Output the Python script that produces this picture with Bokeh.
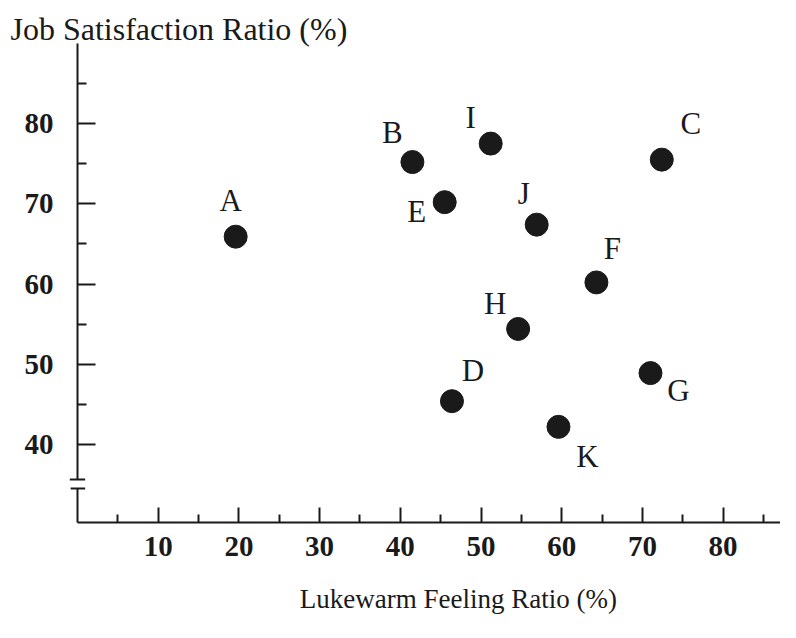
from bokeh.plotting import figure
from bokeh.models import ColumnDataSource, FixedTicker, Range1d, Label
from bokeh.core.properties import value
from bokeh.embed import file_html
from bokeh.resources import INLINE

# ---- data ----
names = ["A", "B", "C", "D", "E", "F", "G", "H", "I", "J", "K"]
lukewarm = [19.6, 41.5, 72.4, 46.4, 45.5, 64.3, 71.0, 54.6, 51.2, 56.9, 59.6]
satisfaction = [65.9, 75.2, 75.5, 45.4, 70.2, 60.2, 48.9, 54.4, 77.5, 67.4, 42.2]
x_major = [10, 20, 30, 40, 50, 60, 70, 80]
x_minor = [5, 15, 25, 35, 45, 55, 65, 75, 85]
y_major = [40, 50, 60, 70, 80]
y_minor = [45, 55, 65, 75, 85]
y_title = "Job Satisfaction Ratio (%)"
x_title = "Lukewarm Feeling Ratio (%)"

# label placement (screen px offsets from each point)
label_dx = [-5, -20, 29, 21, -28, 16, 28, -23, -20, -13, 29]
label_dy = [-36, -30, -36, -31, 9, -34, 17, -25, -26, -31, 30]

SERIF = "Liberation Serif"
INK = "#1a1a1a"

# plot window (whole canvas is the frame; axes sit at fixed data locations)
X0, X1 = -9.54, 87.11
Y0, Y1 = 17.82, 95.33
AXIS_X = 0            # where the y axis stands
AXIS_Y = 30.28        # where the x axis lies
Y_AXIS_TOP = 89.97
BREAK_LO, BREAK_HI = 34.52, 35.64

p = figure(width=780, height=622, x_range=Range1d(X0, X1), y_range=Range1d(Y0, Y1),
           output_backend="svg", toolbar_location=None,
           min_border_left=0, min_border_right=0, min_border_top=0, min_border_bottom=0)
p.outline_line_color = None
p.grid.visible = False
p.background_fill_color = "white"

# x axis
xa = p.xaxis[0]
xa.fixed_location = AXIS_Y
xa.ticker = FixedTicker(ticks=x_major, minor_ticks=x_minor)
xa.bounds = (AXIS_X, X1)
xa.axis_line_width = 2
xa.axis_line_color = INK
xa.major_tick_in = 15
xa.major_tick_out = 0
xa.minor_tick_in = 8
xa.minor_tick_out = 0
xa.major_tick_line_width = 2
xa.minor_tick_line_width = 2
xa.major_tick_line_color = INK
xa.minor_tick_line_color = INK
xa.major_label_text_font = SERIF
xa.major_label_text_font_style = "bold"
xa.major_label_text_font_size = "29px"
xa.major_label_text_color = INK
xa.major_label_standoff = 14

# y axis
ya = p.yaxis[0]
ya.fixed_location = AXIS_X
ya.ticker = FixedTicker(ticks=y_major, minor_ticks=y_minor)
ya.bounds = (AXIS_Y, Y_AXIS_TOP)
ya.axis_line_width = 2
ya.axis_line_color = INK
ya.major_tick_in = 18
ya.major_tick_out = 0
ya.minor_tick_in = 9
ya.minor_tick_out = 0
ya.major_tick_line_width = 2
ya.minor_tick_line_width = 2
ya.major_tick_line_color = INK
ya.minor_tick_line_color = INK
ya.major_label_text_font = SERIF
ya.major_label_text_font_style = "bold"
ya.major_label_text_font_size = "29px"
ya.major_label_text_color = INK
ya.major_label_standoff = 24

# titles
p.add_layout(Label(x=-8.30, y=91.84, text=y_title, text_font=SERIF,
                   text_font_size="32px", text_color=INK, text_align="left",
                   text_baseline="middle"))
p.add_layout(Label(x=47.2, y=20.81, text=x_title, text_font=SERIF,
                   text_font_size="27px", text_color=INK, text_align="center",
                   text_baseline="middle"))

# axis break on the y axis
gap = p.quad(left=[AXIS_X - 0.4], right=[AXIS_X + 0.4], bottom=[BREAK_LO], top=[BREAK_HI],
             fill_color="white", line_color=None)
gap.level = "annotation"
marks = p.segment(x0=[AXIS_X - 0.95, AXIS_X - 0.85], x1=[AXIS_X + 0.95, AXIS_X + 0.95],
                  y0=[BREAK_HI, BREAK_LO], y1=[BREAK_HI, BREAK_LO],
                  line_color=INK, line_width=2)
marks.level = "overlay"

src = ColumnDataSource(dict(x=lukewarm, y=satisfaction, name=names, dx=label_dx, dy=label_dy))
p.scatter("x", "y", source=src, size=23, fill_color=INK, line_color=INK)
p.text("x", "y", text="name", source=src, x_offset="dx", y_offset="dy",
       text_font=value(SERIF), text_font_size="31px", text_color=INK,
       text_align="center", text_baseline="middle")

open("out.html", "w").write(file_html(p, INLINE))
